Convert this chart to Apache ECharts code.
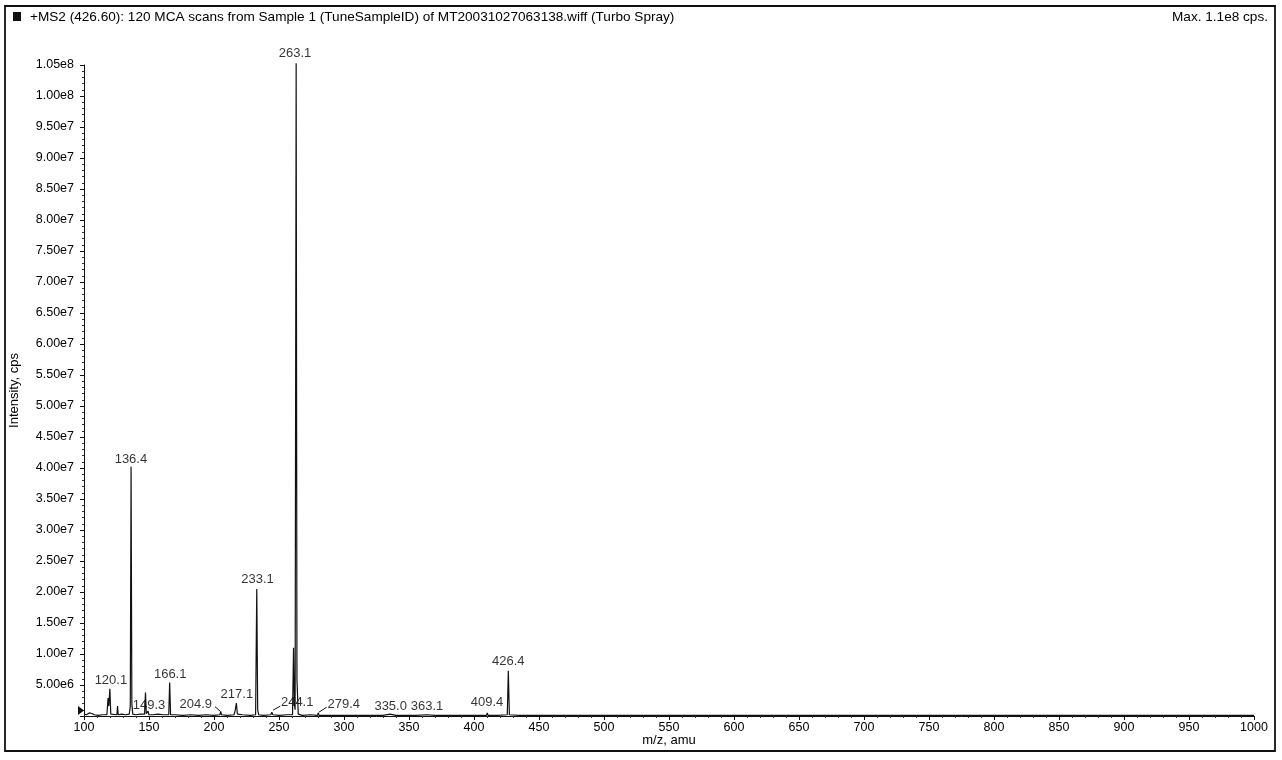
<!DOCTYPE html>
<html>
<head>
<meta charset="utf-8">
<script src="https://cdn.jsdelivr.net/npm/echarts@6/dist/echarts.min.js"></script>
<style>
html,body{margin:0;padding:0;background:#fff;}
#chart{width:1282px;height:760px;}
</style>
</head>
<body>
<div id="chart"></div>
<script>
// Title texts
var titleText = '+MS2 (426.60): 120 MCA scans from Sample 1 (TuneSampleID) of MT20031027063138.wiff (Turbo Spray)';
var maxText = 'Max. 1.1e8 cps.';
var xAxisName = 'm/z, amu';
var yAxisName = 'Intensity, cps';

// Axis ranges / ticks
var xMin = 100, xMax = 1000, xStep = 50;
var yMin = 0, yMax = 1.05e8, yStep = 5e6;

// Spectrum profile (m/z, intensity in cps)
var specMz = [100, 102, 104, 105, 106, 108, 111, 114, 117.6, 118.5, 119.1, 119.9, 120.6, 122, 125.3, 125.8, 126.3,
  129, 132, 134.8, 135.6, 136.2, 136.8, 137.5, 140, 143, 146.6, 147.3, 147.9, 148.8, 149.3, 149.9, 153, 157, 161,
  165.2, 165.9, 166.6, 170, 176, 182, 188, 194, 200, 204.5, 205.2, 205.8, 210, 215.4, 216.3, 217.2, 218.0, 222,
  228, 232.0, 232.9, 233.6, 234.4, 238, 243.7, 244.5, 245.3, 250, 256, 260.4, 261.2, 261.8, 262.4, 263.2, 263.8,
  264.2, 264.8, 268, 274, 279.6, 280.2, 280.8, 290, 300, 315, 330, 335.4, 340, 355, 363.5, 370, 385, 400, 409.6,
  410.2, 410.8, 418, 425.6, 426.4, 427.2, 435, 460, 500, 550, 600, 650, 700, 750, 800, 850, 900, 950, 1000];
var specI = [0.3e6, 0.2e6, 0.5e6, 0.2e6, 0.4e6, 0.2e6, 0.1e6, 0.2e6, 0.2e6, 2.9e6, 1.6e6, 4.4e6, 0.3e6, 0.2e6, 0.2e6, 1.6e6, 0.2e6,
  0.3e6, 0.2e6, 0.3e6, 1.5e6, 4.02e7, 2.0e6, 0.3e6, 0.2e6, 0.3e6, 0.3e6, 3.8e6, 0.4e6, 0.3e6, 0.8e6, 0.2e6, 0.2e6, 0.3e6, 0.2e6,
  0.2e6, 5.4e6, 0.2e6, 0.2e6, 0.1e6, 0.2e6, 0.1e6, 0.2e6, 0.1e6, 0.2e6, 0.7e6, 0.2e6, 0.1e6, 0.2e6, 0.9e6, 2.1e6, 0.3e6, 0.2e6,
  0.1e6, 0.2e6, 2.05e7, 1.0e6, 0.2e6, 0.1e6, 0.2e6, 0.6e6, 0.2e6, 0.1e6, 0.2e6, 0.2e6, 1.1e7, 2.0e6, 1.0e6, 1.053e8, 6.0e6,
  5.8e6, 0.3e6, 0.1e6, 0.2e6, 0.1e6, 0.5e6, 0.1e6, 0.1e6, 0.1e6, 0.1e6, 0.1e6, 0.3e6, 0.1e6, 0.1e6, 0.2e6, 0.1e6, 0.1e6, 0.1e6, 0.1e6,
  0.5e6, 0.1e6, 0.1e6, 0.2e6, 7.3e6, 0.2e6, 0.1e6, 0.1e6, 0.1e6, 0.1e6, 0.1e6, 0.1e6, 0.1e6, 0.1e6, 0.1e6, 0.1e6, 0.1e6, 0.1e6, 0.1e6];

// Peak annotations: text, anchor m/z and anchor intensity (bottom of text)
var labelText = ['120.1', '136.4', '149.3', '166.1', '204.9', '217.1', '233.1', '244.1', '263.1', '279.4', '335.0', '363.1', '409.4', '426.4'];
var labelMz   = [120.7, 136.1, 150.0, 166.3, 186.0, 217.6, 233.5, 264.0, 262.3, 299.8, 335.9, 363.9, 410.0, 426.4];
var labelI    = [4.7e6, 4.03e7, 0.7e6, 5.7e6, 0.85e6, 2.5e6, 2.1e7, 1.1e6, 1.058e8, 0.85e6, 0.55e6, 0.55e6, 1.1e6, 7.7e6];

// Leader lines from label to small peaks
var leaderMzA = [200.8, 245.5, 280.6];
var leaderIA  = [1.5e6, 0.95e6, 0.6e6];
var leaderMzB = [205.2, 251.0, 286.6];
var leaderIB  = [0.7e6, 1.6e6, 1.4e6];

// Precursor marker on y axis
var markerI = 0.9e6;

function fmtY(v) {
  if (v <= 0) return '';
  if (Math.abs(v / yStep - Math.round(v / yStep)) > 1e-6) return '';
  var e = Math.floor(Math.log10(v) + 1e-9);
  return (v / Math.pow(10, e)).toFixed(2) + 'e' + e;
}
function fmtX(v) { return String(Math.round(v)); }

var specData = specMz.map(function (m, i) { return [m, specI[i]]; });
var labelData = labelMz.map(function (m, i) { return { value: [m, labelI[i]], name: labelText[i] }; });
var leaderData = [];
leaderMzA.forEach(function (m, i) {
  leaderData.push([m, leaderIA[i]]);
  leaderData.push([leaderMzB[i], leaderIB[i]]);
  leaderData.push([null, null]);
});

var FONT = 'Liberation Sans, Arial, sans-serif';
var INK = '#000';
var chart = echarts.init(document.getElementById('chart'), null, { renderer: 'canvas' });
chart.setOption({
  animation: false,
  backgroundColor: '#fff',
  textStyle: { fontFamily: FONT },
  grid: { left: 83, right: 28, top: 65, bottom: 44 },
  graphic: [
    { type: 'rect', shape: { x: 5, y: 6, width: 1270, height: 745 }, style: { fill: 'none', stroke: '#111', lineWidth: 1.8 }, silent: true },
    { type: 'rect', shape: { x: 13, y: 12, width: 8, height: 9 }, style: { fill: '#111' }, silent: true },
    { type: 'text', x: 30, y: 17, style: { text: titleText, font: '13.6px ' + FONT, fill: INK, textVerticalAlign: 'middle' }, silent: true },
    { type: 'text', x: 1268, y: 17, style: { text: maxText, font: '13.6px ' + FONT, fill: INK, textAlign: 'right', textVerticalAlign: 'middle' }, silent: true }
  ],
  xAxis: {
    type: 'value', min: xMin, max: xMax, interval: xStep,
    name: xAxisName, nameLocation: 'middle', nameGap: 24, nameMoveOverlap: false,
    nameTextStyle: { fontSize: 13, color: INK, fontFamily: FONT, verticalAlign: 'middle' },
    axisLine: { show: true, onZero: false, lineStyle: { color: '#111', width: 1 } },
    axisTick: { show: true, length: 4, lineStyle: { color: '#111' } },
    minorTick: { show: true, splitNumber: 5, length: 2, lineStyle: { color: '#333' } },
    axisLabel: { fontSize: 12.5, color: INK, margin: 5, fontFamily: FONT, formatter: fmtX },
    splitLine: { show: false }
  },
  yAxis: {
    type: 'value', min: yMin, max: yMax, interval: yStep,
    name: yAxisName, nameLocation: 'middle', nameGap: 63, nameRotate: 90, nameMoveOverlap: false,
    nameTextStyle: { fontSize: 13, color: INK, fontFamily: FONT },
    axisLine: { show: true, lineStyle: { color: '#111', width: 1 } },
    axisTick: { show: true, length: 4, lineStyle: { color: '#111' } },
    minorTick: { show: true, splitNumber: 5, length: 2, lineStyle: { color: '#333' } },
    axisLabel: { fontSize: 12.5, color: INK, margin: 10, formatter: fmtY, fontFamily: FONT },
    splitLine: { show: false }
  },
  series: [
    {
      type: 'line', data: specData, showSymbol: false, clip: false, silent: true,
      lineStyle: { color: '#111', width: 1.2 },
      markPoint: {
        silent: true,
        data: [{ coord: [xMin, markerI], symbol: 'triangle', symbolSize: [9, 6], symbolRotate: -90, symbolOffset: [-3, 0], itemStyle: { color: '#111' }, label: { show: false } }]
      }
    },
    {
      type: 'line', data: leaderData, showSymbol: false, connectNulls: false, clip: false, silent: true,
      lineStyle: { color: '#111', width: 1 }
    },
    {
      type: 'scatter', data: labelData, symbolSize: 0, clip: false, silent: true,
      label: {
        show: true, position: 'top', distance: 0, fontSize: 13, color: INK, fontFamily: FONT,
        formatter: function (p) { return p.name; }
      }
    }
  ]
});
</script>
</body>
</html>
